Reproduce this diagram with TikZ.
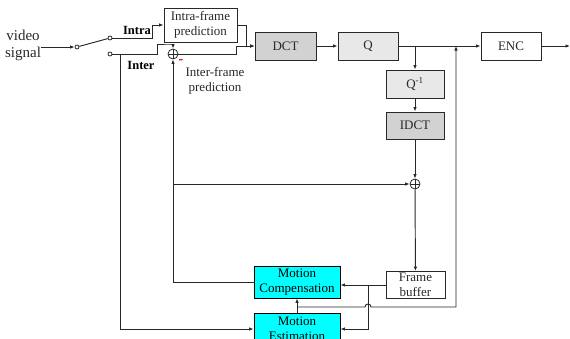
\documentclass[tikz,border=0pt]{standalone}
\usepackage{fontspec}
\setmainfont{Liberation Serif}
\usetikzlibrary{arrows.meta,positioning,calc}
\definecolor{LineGray}{RGB}{40,40,40}
\definecolor{BoxDark}{RGB}{210,210,210}
\definecolor{BoxLight}{RGB}{232,232,232}
\definecolor{MotionCyan}{RGB}{0,255,255}
\definecolor{MinusRed}{RGB}{220,0,0}
\tikzset{
  blk/.style={draw=LineGray,line width=0.9pt,text=LineGray,
              font=\fontsize{13}{14.5}\selectfont,align=center,inner sep=1pt},
  dbox/.style={blk,fill=BoxDark,minimum width=61pt,minimum height=28pt},
  lbox/.style={blk,fill=BoxLight,minimum width=60pt,minimum height=28pt},
  wbox/.style={blk,fill=white,minimum width=60pt,minimum height=28pt},
  cbox/.style={blk,draw=black,fill=MotionCyan,text=black,minimum width=86pt,minimum height=32pt},
  sumc/.style={circle,draw=LineGray,line width=0.8pt,minimum size=10pt,inner sep=0pt,
               path picture={\draw[LineGray,line width=0.8pt]
                 (path picture bounding box.north) -- (path picture bounding box.south)
                 (path picture bounding box.west) -- (path picture bounding box.east);}},
  pin/.style={circle,draw=LineGray,line width=0.8pt,fill=white,minimum size=4pt,inner sep=0pt},
  lab/.style={font=\fontsize{13}{14.5}\selectfont,text=LineGray,align=center,inner sep=0pt},
  blab/.style={font=\fontsize{12.5}{14}\selectfont\bfseries,inner sep=0pt},
  line/.style={draw=LineGray,line width=0.95pt},
  arr/.style={line,-{Latex[length=4.5pt,width=3.5pt]}},
}
\begin{document}
\begin{tikzpicture}[x=1pt,y=-1pt]
  \useasboundingbox (0,0) rectangle (570,338);
  \clip (0,0) rectangle (570,338);

  % input and switch
  \node[lab,font=\fontsize{15}{17}\selectfont] (sig) at (23,45) {video\\signal};
  \node[pin] (swin) at (77,47) {};
  \node[pin] (swa) at (110,38) {};
  \node[pin] (swb) at (110,54) {};
  \node[blab] (intralab) at (137,30) {Intra};
  \node[blab] (interlab) at (141,65) {Inter};

  % forward path
  \node[wbox,minimum width=73pt,minimum height=34pt] (intra) at (200.5,25) {Intra-frame\\prediction};
  \node[sumc] (add1) at (173,54) {};
  \node[text=MinusRed,font=\bfseries\fontsize{14}{14}\selectfont,inner sep=0pt] (minus) at (181,62) {-};
  \node[lab] (interpred) at (215,81) {Inter-frame\\prediction};
  \node[dbox] (dct) at (285.5,46) {DCT};
  \node[lbox] (q) at (368,46) {Q};
  \node[wbox] (enc) at (511,46) {ENC};
  \coordinate (out) at (570,46);

  % reconstruction loop
  \node[lbox,minimum width=58pt] (qinv) at (415,84) {Q\textsuperscript{-1}};
  \node[dbox,minimum width=58pt,minimum height=27pt] (idct) at (415,125.5) {IDCT};
  \node[sumc] (add2) at (415,184) {};
  \node[wbox,minimum width=59pt,minimum height=27pt] (fb) at (415.5,285) {Frame\\buffer};
  \node[cbox] (mc) at (297,282) {Motion\\Compensation};
  \node[cbox] (me) at (297,329) {Motion\\Estimation};
  \coordinate (mvin) at (456,46);
  \coordinate (tap) at (368,285);
  \coordinate (mvjoin) at (297,307);

  % connectors
  \draw[arr] (sig.east |- swin) -- (swin);
  \draw[line] (swin) -- (swa);
  \draw[arr] (swa) -| ($(intra.west)+(-11,0)$) -- (intra.west);
  \draw[arr] (swb) -- ($(swb)+(47,0)$) |- ($(add1)+(-2,-10)$) -| (add1.north);
  \draw[arr] (intra.east) -| ($(dct.west)+(-8,0)$) -- (dct.west);
  \draw[arr] (add1.east) -| ($(dct.west)+(-18,0)$) |- (dct.west);
  \draw[arr] (dct) -- (q);
  \draw[arr] (q) -- (enc);
  \draw[arr] (enc) -- (out);
  \draw[arr] (qinv |- q.east) -- (qinv.north);
  \draw[arr] (qinv) -- (idct);
  \draw[arr] (idct) -- (add2);
  \draw[arr] (add2) -- (fb);
  \draw[arr] (fb.west) -- (mc.east |- fb.west);
  \draw[arr] (tap) |- (me.east);
  \draw[arr] (me) -- (mc);
  \draw[arr] (mvjoin) -- ($(tap |- mvjoin)+(-3,0)$)
    .. controls ($(tap |- mvjoin)+(-3,-4)$) and ($(tap |- mvjoin)+(3,-4)$) .. ($(tap |- mvjoin)+(3,0)$)
    -| (mvin);
  \draw[arr] (mc.west) -| (add1.south);
  \draw[arr] (add1 |- add2) -- (add2.west);
  \draw[arr] ($(swb)+(10,0)$) |- (me.west);
\end{tikzpicture}
\end{document}
